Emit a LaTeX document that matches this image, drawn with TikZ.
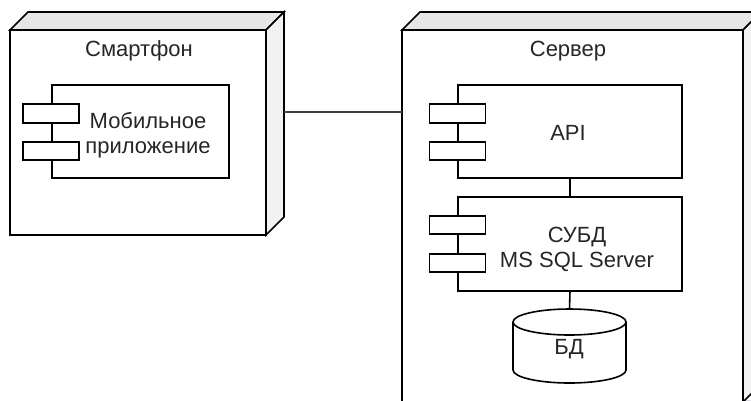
\documentclass[tikz,border=0pt]{standalone}
\usepackage{fontspec}
\setmainfont{Liberation Sans}
\usetikzlibrary{calc,backgrounds}
\definecolor{topface}{HTML}{E6E6E6}
\definecolor{sideface}{HTML}{F2F2F2}
\definecolor{shadowc}{HTML}{6E6E9A}
\newcommand\dfont{\fontsize{22}{25}\selectfont}
\newcommand\dropsh[2]{%
  \foreach \s in {2,3,4,5,6}{%
    \fill[shadowc, opacity=0.06]
      ($(#1.north west)+(\s,\s)$) -- ($(#1.north west)+(#2+\s,-#2+\s)$) --
      ($(#1.north east)+(#2+\s,-#2+\s)$) -- ($(#1.south east)+(#2+\s,-#2+\s)$) --
      ($(#1.south east)+(\s,\s)$) -- ($(#1.south west)+(\s,\s)$) -- cycle;}}
\newcommand\faces[2]{%
  \filldraw[topface, draw=black, lw]
    (#1.north west) -- ++(#2,-#2) -- ($(#1.north east)+(#2,-#2)$) -- (#1.north east) -- cycle;
  \filldraw[sideface, draw=black, lw]
    (#1.north east) -- ++(#2,-#2) -- ($(#1.south east)+(#2,-#2)$) -- (#1.south east) -- cycle;}
\tikzset{
  lw/.style={line width=1.6pt, line join=miter},
  nodefront/.style={draw, lw, fill=white, inner sep=0pt, outer sep=0pt},
  comp/.style={draw, lw, fill=white, inner sep=0pt, outer sep=0pt, minimum width=#1},
  port/.style={draw, lw, fill=white, inner sep=0pt, outer sep=0pt, minimum width=56pt, minimum height=18.5pt},
  txt/.style={font=\dfont, inner sep=0pt, align=center, text=black!85},
  conn/.style={lw, draw=black}
}
\begin{document}
\begin{tikzpicture}[x=1pt,y=-1pt]
\clip (0,0) rectangle (751,400);
\fill[white] (0,0) rectangle (751,400);

% 3D nodes
\node[nodefront, minimum width=256pt, minimum height=205pt] (phone) at (138,132.5) {};
\faces{phone}{18}
\node[nodefront, minimum width=341pt, minimum height=372pt] (server) at (572.5,216) {};
\faces{server}{18}
\begin{scope}[on background layer]
  \dropsh{phone}{18}
  \dropsh{server}{18}
\end{scope}

\node[txt] (phonet) at (139,51) {Смартфон};
\node[txt] (servert) at (568,51) {Сервер};

% components
\node[comp=177pt, minimum height=93pt] (app) at (140.5,131.5) {};
\node[port] (appp1) at (51,113.5) {};
\node[port] (appp2) at (51,151) {};
\node[txt] (appt) at (148,135) {Мобильное\\приложение};

\node[comp=224pt, minimum height=93pt] (api) at (570,131.5) {};
\node[port] (apip1) at (457.5,113.5) {};
\node[port] (apip2) at (457.5,151) {};
\node[txt] (apit) at (568,133) {API};

\node[comp=224pt, minimum height=94pt] (dbms) at (570,244) {};
\node[port] (dbmsp1) at (457.5,225) {};
\node[port] (dbmsp2) at (457.5,263) {};
\node[txt] (dbmst) at (577,249) {СУБД\\MS SQL Server};

% database cylinder
\node[inner sep=0pt, outer sep=0pt, minimum width=113pt, minimum height=74pt] (db) at (569.5,346) {};
\filldraw[fill=white, draw=black, lw]
  ($(db.north west)+(0,13)$) -- ($(db.south west)+(0,-13)$)
  arc[start angle=180, end angle=360, x radius=56.5pt, y radius=13pt]
  -- ($(db.north east)+(0,13)$)
  arc[start angle=0, end angle=180, x radius=56.5pt, y radius=13pt] -- cycle;
\draw[lw] ($(db.north west)+(0,13)$)
  arc[start angle=180, end angle=360, x radius=56.5pt, y radius=13pt];
\node[txt] (dbt) at (569,349) {БД};

% connectors
\coordinate (phoneback) at (284,112);
\draw[conn, draw=black!75] (phoneback) -- (phoneback -| server.west);
\draw[conn] (api.south) -- (dbms.north);
\draw[conn] (dbms.south) -- (db.north);
\end{tikzpicture}
\end{document}
